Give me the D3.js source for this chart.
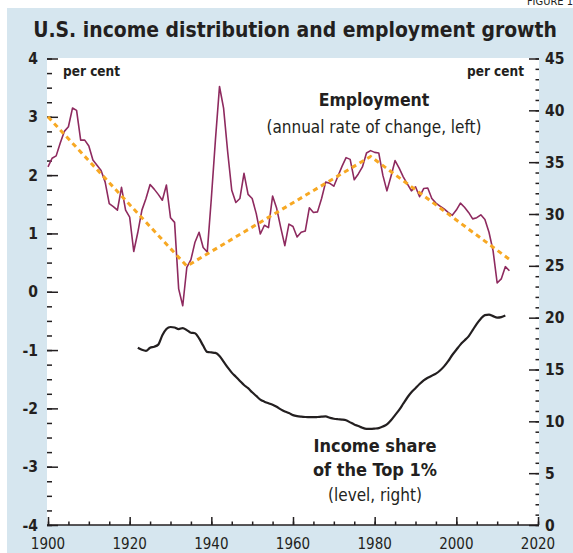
<!DOCTYPE html>
<html>
<head>
<meta charset="utf-8">
<script src="https://cdn.jsdelivr.net/npm/d3@7"></script>
<style>
  body { margin: 0; background: #fff; }
  svg { display: block; font-family: "DejaVu Sans Condensed", "DejaVu Sans", sans-serif; }
  text { fill: #231f20; }
</style>
</head>
<body>
<svg width="573" height="553"></svg>
<script>
// DATA
const empYears = d3.range(1900, 2014)
const empValues = [
  2.14, 2.29, 2.33, 2.55, 2.75, 2.83, 3.15, 3.11, 2.60, 2.60,
  2.50, 2.26, 2.17, 2.08, 1.88, 1.51, 1.46, 1.40, 1.79, 1.40,
  1.28, 0.69, 1.02, 1.40, 1.60, 1.84, 1.76, 1.67, 1.57, 1.83,
  1.27, 1.19, 0.05, -0.24, 0.42, 0.55, 0.85, 1.02, 0.76, 0.68,
  1.60, 2.60, 3.52, 3.15, 2.40, 1.74, 1.53, 1.60, 2.03, 1.67,
  1.60, 1.34, 0.99, 1.14, 1.10, 1.64, 1.43, 1.10, 0.79, 1.16,
  1.12, 0.94, 1.02, 1.04, 1.44, 1.36, 1.37, 1.60, 1.88, 1.86,
  1.81, 1.98, 2.15, 2.30, 2.27, 1.92, 2.02, 2.14, 2.38, 2.42,
  2.39, 2.38, 2.00, 1.73, 1.98, 2.25, 2.12, 1.97, 1.85, 1.73,
  1.80, 1.63, 1.77, 1.78, 1.60, 1.52, 1.47, 1.42, 1.36, 1.31,
  1.40, 1.52, 1.45, 1.36, 1.25, 1.27, 1.32, 1.24, 1.02, 0.70,
  0.15, 0.22, 0.43, 0.36
]

const trendYears = [1900, 1934, 1979, 2013.5]
const trendValues = [3.0, 0.44, 2.32, 0.53]

const shareYears = d3.range(1922, 2013)
const shareValues = [
  17.1, 16.9, 16.8, 17.1, 17.2, 17.4, 18.3, 18.9,
  19.1, 19.05, 18.9, 19.0, 18.8, 18.55, 18.5, 18.0, 17.3, 16.7,
  16.65, 16.6, 16.3, 15.75, 15.2, 14.7, 14.3, 13.9, 13.5, 13.2,
  12.8, 12.45, 12.1, 11.9, 11.75, 11.6, 11.4, 11.15, 10.95, 10.8,
  10.6, 10.5, 10.45, 10.42, 10.41, 10.4, 10.42, 10.45, 10.47, 10.35,
  10.25, 10.2, 10.17, 10.1, 9.9, 9.7, 9.55, 9.38, 9.28, 9.27,
  9.3, 9.35, 9.5, 9.7, 10.1, 10.6, 11.1, 11.7, 12.3, 12.8,
  13.2, 13.6, 13.95, 14.2, 14.4, 14.6, 14.9, 15.3, 15.8, 16.4,
  16.9, 17.4, 17.8, 18.2, 18.8, 19.4, 19.9, 20.25, 20.3, 20.15,
  20.0, 20.05, 20.2
]

const leftTicks = [-4, -3, -2, -1, 0, 1, 2, 3, 4]
const rightTicks = [0, 5, 10, 15, 20, 25, 30, 35, 40, 45]
const xTicks = [1900, 1920, 1940, 1960, 1980, 2000, 2020]

// SETUP
const svg = d3.select("svg")
const ink = "#231f20"

svg.append("text")
	.attr("x", 573)
	.attr("y", 5)
	.attr("text-anchor", "end")
	.attr("font-size", 11)
	.text("FIGURE 1")

svg.append("rect")
	.attr("x", 7)
	.attr("y", 8)
	.attr("width", 566)
	.attr("height", 545)
	.attr("fill", "#d6e6ef")

svg.append("rect")
	.attr("x", 47)
	.attr("y", 58)
	.attr("width", 492)
	.attr("height", 467)
	.attr("fill", "#ffffff")

const title = svg.append("text")
	.attr("x", 295)
	.attr("y", 37)
	.attr("text-anchor", "middle")
	.attr("font-size", 22)
	.attr("font-weight", "bold")
	.text("U.S. income distribution and employment growth")

// fit title to the width it has in the original
const titleWidth = title.node().getComputedTextLength()
title.attr("font-size", Math.min(24, 22 * 524 / titleWidth))

// SCALES
const scaleX = d3.scaleLinear()
	.domain([1900, 2020])
	.range([48, 538])

const scaleL = d3.scaleLinear()
	.domain([-4, 4])
	.range([525, 58.5])

const scaleR = d3.scaleLinear()
	.domain([0, 45])
	.range([525, 58.5])

// AXES
const axisL = svg.append("g")
	.attr("transform", "translate(47, 0)")
	.call(d3.axisRight(scaleL).tickValues(d3.range(-4, 4.01, 0.25)).tickSize(5).tickFormat(""))
axisL.append("g")
	.call(d3.axisRight(scaleL).tickValues(leftTicks).tickSize(11).tickFormat(""))

const axisR = svg.append("g")
	.attr("transform", "translate(539, 0)")
	.call(d3.axisLeft(scaleR).tickValues(d3.range(0, 46, 1)).tickSize(3.5).tickFormat(""))
axisR.append("g")
	.call(d3.axisLeft(scaleR).tickValues(rightTicks).tickSize(10).tickFormat(""))

const axisB = svg.append("g")
	.attr("transform", "translate(0, 525)")
	.call(d3.axisTop(scaleX).tickValues(d3.range(1900, 2021, 5)).tickSize(3.5).tickFormat(""))
axisB.append("g")
	.call(d3.axisTop(scaleX).tickValues(xTicks).tickSize(8).tickFormat(""))

svg.selectAll(".domain").remove()
svg.selectAll(".tick line")
	.attr("stroke", ink)
	.attr("stroke-width", 1.5)

svg.append("line")
	.attr("x1", 47)
	.attr("x2", 539)
	.attr("y1", 525)
	.attr("y2", 525)
	.attr("stroke", ink)
	.attr("stroke-width", 1.5)

svg.selectAll("text.left-label")
	.data(leftTicks)
	.enter()
	.append("text")
	.attr("class", "left-label")
	.attr("x", 38)
	.attr("y", (d) => scaleL(d) + 5.5)
	.attr("text-anchor", "end")
	.attr("font-size", 15.5)
	.attr("font-weight", "bold")
	.text((d) => d < 0 ? "-" + Math.abs(d) : d)

svg.selectAll("text.right-label")
	.data(rightTicks)
	.enter()
	.append("text")
	.attr("class", "right-label")
	.attr("x", 545)
	.attr("y", (d) => scaleR(d) + 5.5)
	.attr("font-size", 15.5)
	.attr("font-weight", "bold")
	.text((d) => d)

svg.selectAll("text.x-label")
	.data(xTicks)
	.enter()
	.append("text")
	.attr("class", "x-label")
	.attr("x", (d) => scaleX(d))
	.attr("y", 549)
	.attr("text-anchor", "middle")
	.attr("font-size", 15)
	.text((d) => d)

// LINES
const empLine = d3.line()
	.x((d, i) => scaleX(empYears[i]))
	.y((d) => scaleL(d))

svg.append("path")
	.datum(empValues)
	.attr("d", empLine)
	.attr("fill", "none")
	.attr("stroke", "#8e2a5f")
	.attr("stroke-width", 1.6)
	.attr("stroke-linejoin", "round")

const trendLine = d3.line()
	.x((d, i) => scaleX(trendYears[i]))
	.y((d) => scaleL(d))

svg.append("path")
	.datum(trendValues)
	.attr("d", trendLine)
	.attr("fill", "none")
	.attr("stroke", "#f7a823")
	.attr("stroke-width", 3)
	.attr("stroke-dasharray", "5 4")

const shareLine = d3.line()
	.x((d, i) => scaleX(shareYears[i]))
	.y((d) => scaleR(d))
	.curve(d3.curveMonotoneX)

svg.append("path")
	.datum(shareValues)
	.attr("d", shareLine)
	.attr("fill", "none")
	.attr("stroke", ink)
	.attr("stroke-width", 2.2)
	.attr("stroke-linejoin", "round")

// LABELS
const label = (x, y, size, weight, anchor, str) => {
  svg.append("text")
  	.attr("x", x)
  	.attr("y", y)
  	.attr("font-size", size)
  	.attr("font-weight", weight)
  	.attr("text-anchor", anchor)
  	.text(str)
}

label(63, 76, 13.5, "bold", "start", "per cent")
label(524, 76, 13.5, "bold", "end", "per cent")
label(374, 106, 17.5, "bold", "middle", "Employment")
label(374, 133, 17, "normal", "middle", "(annual rate of change, left)")
label(375, 452, 18, "bold", "middle", "Income share")
label(375, 476, 18, "bold", "middle", "of the Top 1%")
label(375, 501, 17, "normal", "middle", "(level, right)")
</script>
</body>
</html>
